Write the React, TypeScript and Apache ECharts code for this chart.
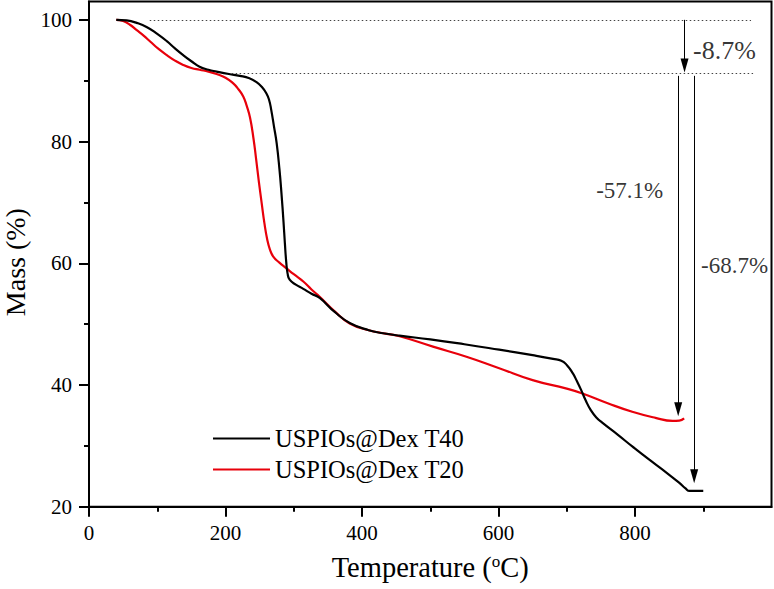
import React, { useEffect, useRef } from 'react';
import * as echarts from 'echarts';

const seriesNames = ['USPIOs@Dex T40', 'USPIOs@Dex T20'];

const t40Data: number[][] = [
  [40, 100], [55, 99.9], [70, 99.5], [85, 98.8], [100, 97.7], [114, 96.5], [126, 95.3], [138, 94.2],
  [150, 93.2], [162, 92.3], [175, 91.8], [187, 91.5], [205, 91.1], [221, 90.8], [235, 90.4],
  [245, 89.8], [253, 89.0], [260, 87.9], [264, 86.8], [267, 85.2], [271, 82.5], [275, 79.7],
  [279, 75.5], [282, 71.5], [285, 66.8], [287, 63.3], [289, 60.2], [291, 58.3], [294, 57.3],
  [303, 56.5], [314, 55.8], [326, 55.0], [338, 54.3], [360, 52.0], [382, 50.2], [410, 49.0],
  [431, 48.5], [455, 48.1], [500, 47.5], [550, 46.7], [601, 45.8], [650, 44.9], [680, 44.3],
  [692, 44.0], [700, 43.3], [709, 41.9], [715, 40.6], [721, 39.2], [728, 37.4], [735, 35.9],
  [743, 34.7], [752, 33.8], [775, 31.8], [796, 29.9], [820, 27.8], [845, 25.7], [865, 23.9],
  [874, 23.0], [880, 22.6], [900, 22.6],
];

const t20Data: number[][] = [
  [40, 100], [50, 99.8], [60, 99.2], [70, 98.3], [80, 97.4], [90, 96.4], [101, 95.3], [114, 94.2],
  [126, 93.3], [138, 92.6], [150, 92.1], [162, 91.8], [175, 91.5], [187, 91.1], [200, 90.5],
  [211, 89.6], [219, 88.6], [226, 87.4], [231, 85.9], [236, 83.9], [241, 80.5], [245, 77.0],
  [249, 73.3], [253, 69.9], [257, 66.6], [261, 64.0], [265, 62.3], [270, 61.1], [279, 60.1],
  [289, 59.2], [300, 58.2], [314, 57.0], [326, 55.7], [338, 54.5], [360, 52.1], [382, 50.1],
  [410, 49.0], [431, 48.5], [455, 48.0], [504, 46.3], [553, 44.65], [600, 42.8], [650, 40.8],
  [700, 39.4], [723, 38.6], [760, 37.0], [796, 35.6], [830, 34.6], [855, 34.1], [865, 34.15],
  [872, 34.5],
];

const xMajorTicks = [0, 200, 400, 600, 800];
const xMinorTicks = [100, 300, 500, 700, 900];
const yMajorTicks = [20, 40, 60, 80, 100];
const yMinorTicks = [30, 50, 70, 90];

// reference (dotted) levels: [[x1, y], [x2, y]]
const dottedLines: number[][][] = [
  [[89, 100], [970, 100]],
  [[209, 91.3], [973, 91.3]],
];

// arrows: [[x, yStart], [x, yEnd]]
const arrowLines: number[][][] = [
  [[872.6, 100], [872.6, 92.5]],
  [[863.3, 90.8], [863.3, 36.0]],
  [[886.7, 90.8], [886.7, 25.0]],
];

// annotation texts: [x, y, text, fontSize]
const annotations: (number | string)[][] = [
  [931.7, 94.9, '-8.7%', 26],
  [793, 71.9, '-57.1%', 23],
  [946.7, 59.6, '-68.7%', 23],
];

const FONT = 'Liberation Serif';

export default function App() {
  const ref = useRef<HTMLDivElement>(null);
  useEffect(() => {
    document.body.style.margin = '0';
    if (!ref.current) return;
    const chart = echarts.init(ref.current, null, { renderer: 'svg' });
    const axisLineStyle = { color: '#000', width: 2 };
    const option: any = {
      animation: false,
      grid: {
        left: 89, right: 2.5, top: 1.6, bottom: 82.3,
        outerBoundsMode: 'none', containLabel: false,
        show: true, borderColor: '#000', borderWidth: 2, backgroundColor: 'transparent',
      },
      legend: {
        orient: 'vertical', left: 213, top: 426, padding: 0, itemWidth: 57, itemHeight: 2, itemGap: 6,
        icon: 'rect',
        data: seriesNames,
        textStyle: { fontFamily: FONT, fontSize: 24.5, lineHeight: 24, color: '#000' },
      },
      xAxis: [
        {
          type: 'value', min: 0, max: 1000, position: 'bottom',
          name: '{a|Temperature (}{s|o}{a|C)}', nameLocation: 'middle', nameGap: 46,
          nameTextStyle: {
            fontFamily: FONT, fontSize: 28.5, color: '#000',
            rich: {
              a: { fontFamily: FONT, fontSize: 28.5, color: '#000' },
              s: { fontFamily: FONT, fontSize: 17, color: '#000', verticalAlign: 'top', padding: [0, 0, 12, 0] },
            },
          },
          axisLine: { show: true, lineStyle: axisLineStyle },
          axisTick: { show: true, inside: false, length: 10, lineStyle: axisLineStyle, customValues: xMajorTicks },
          axisLabel: { customValues: xMajorTicks, margin: 16, fontFamily: FONT, fontSize: 21, color: '#000' },
          splitLine: { show: false },
        },
        {
          type: 'value', min: 0, max: 1000, position: 'bottom',
          axisLine: { show: false },
          axisTick: { show: true, inside: false, length: 5, lineStyle: axisLineStyle, customValues: xMinorTicks },
          axisLabel: { show: false },
          splitLine: { show: false },
        },
      ],
      yAxis: [
        {
          type: 'value', min: 20, max: 103, position: 'left',
          name: 'Mass (%)', nameLocation: 'middle', nameGap: 59,
          nameTextStyle: { fontFamily: FONT, fontSize: 28, color: '#000', padding: [0, 16, 0, 0] },
          axisLine: { show: true, lineStyle: axisLineStyle },
          axisTick: { show: true, inside: false, length: 10, lineStyle: axisLineStyle, customValues: yMajorTicks },
          axisLabel: { customValues: yMajorTicks, margin: 17, fontFamily: FONT, fontSize: 21, color: '#000' },
          splitLine: { show: false },
        },
        {
          type: 'value', min: 20, max: 103, position: 'left',
          axisLine: { show: false },
          axisTick: { show: true, inside: false, length: 5, lineStyle: axisLineStyle, customValues: yMinorTicks },
          axisLabel: { show: false },
          splitLine: { show: false },
        },
      ],
      series: [
        {
          name: seriesNames[0], type: 'line', data: t40Data, showSymbol: false, symbol: 'none',
          smooth: 0.5,
          lineStyle: { color: '#000', width: 2.2 }, itemStyle: { color: '#000' }, z: 3,
        },
        {
          name: seriesNames[1], type: 'line', data: t20Data, showSymbol: false, symbol: 'none',
          smooth: 0.5,
          lineStyle: { color: '#e8000b', width: 2.2 }, itemStyle: { color: '#e8000b' }, z: 2,
        },
        {
          name: 'annot', type: 'scatter', symbolSize: 1, silent: true,
          itemStyle: { color: 'transparent' },
          data: annotations.map((a) => ({
            value: [a[0], a[1]],
            label: {
              show: true, position: [0, 0], align: 'center', verticalAlign: 'middle',
              formatter: String(a[2]), textBorderWidth: 0,
              fontFamily: FONT, fontSize: a[3] as number, color: '#000',
            },
          })),
          markLine: {
            silent: true, animation: false,
            label: { show: false },
            data: [
              ...dottedLines.map((l) => [
                { coord: l[0], symbol: 'none' },
                { coord: l[1], symbol: 'none', lineStyle: { type: [1.5, 2.5], color: '#444', width: 1.2 } },
              ]),
              ...arrowLines.map((l) => [
                { coord: l[0], symbol: 'none' },
                { coord: l[1], symbol: 'triangle', symbolSize: [8, 14], lineStyle: { type: 'solid', color: '#000', width: 1 } },
              ]),
            ],
            lineStyle: { color: '#000', width: 1 },
            itemStyle: { color: '#000' },
          },
        },
      ],
    };
    chart.setOption(option);
    return () => chart.dispose();
  }, []);
  return <div ref={ref} style={{ width: 774, height: 589 }} />;
}
